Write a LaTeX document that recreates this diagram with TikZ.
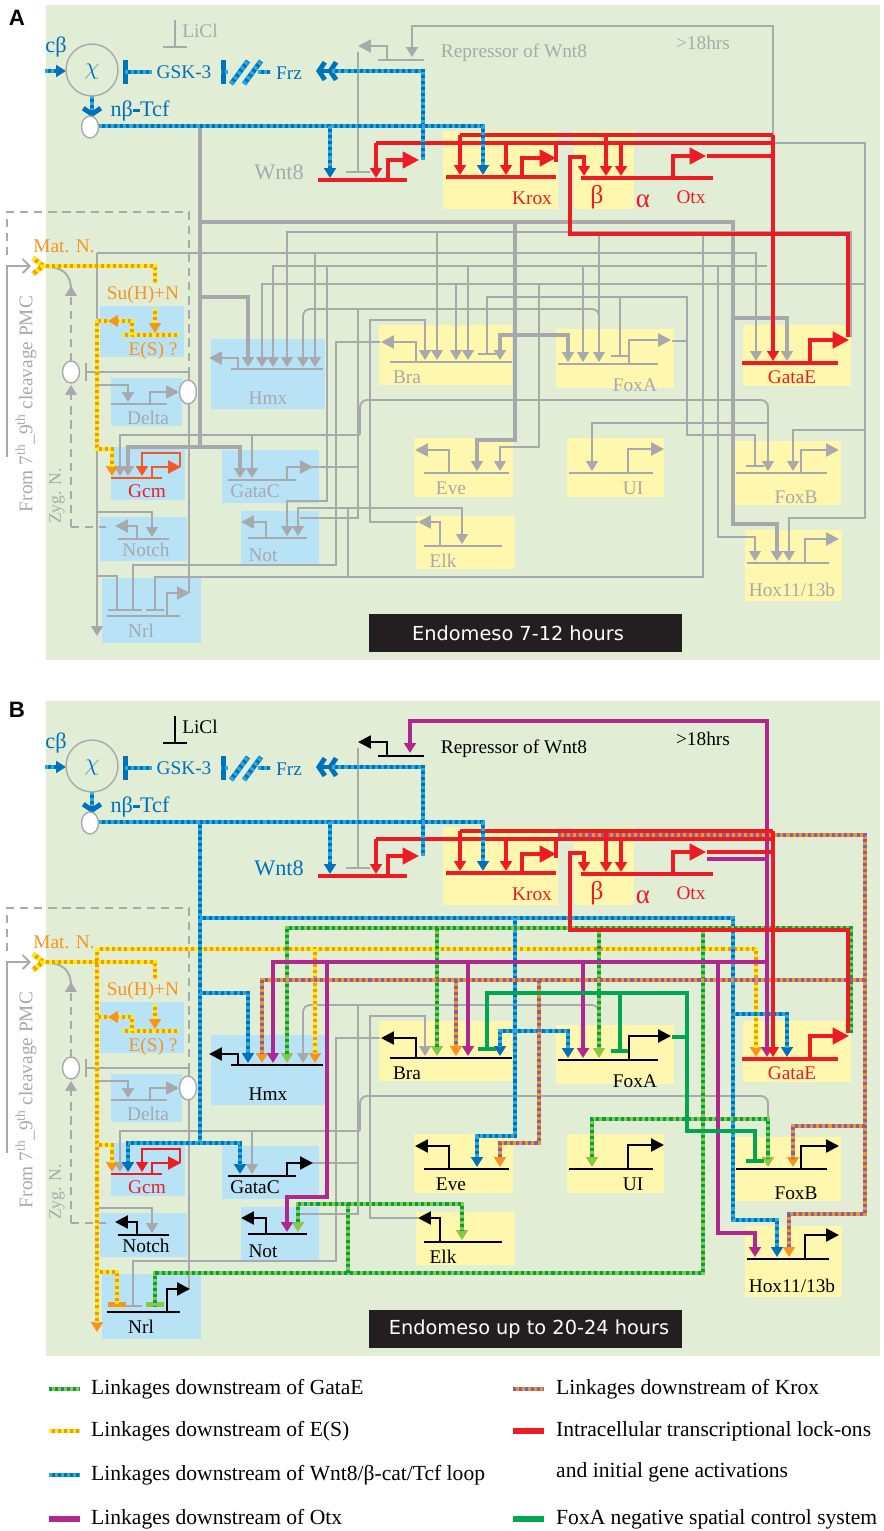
\documentclass[tikz,border=0pt]{standalone}
\usepackage{fontspec}
\setmainfont{Liberation Serif}
\newfontfamily\sansfont{DejaVu Sans}
\newfontfamily\headfont{Liberation Sans}
\usetikzlibrary{arrows.meta}
\definecolor{bgGreen}{HTML}{E2EDD6}
\definecolor{boxYellow}{HTML}{FFF7AE}
\definecolor{boxBlue}{HTML}{B8E2F6}
\definecolor{wireGray}{HTML}{A7A9AC}
\definecolor{linkRed}{HTML}{ED1C24}
\definecolor{gcmRed}{HTML}{F15A24}
\definecolor{wntDark}{HTML}{0072BC}
\definecolor{wntLight}{HTML}{29ABE2}
\definecolor{esOrange}{HTML}{F7941D}
\definecolor{esYellow}{HTML}{FFF200}
\definecolor{gataLight}{HTML}{8DC63F}
\definecolor{gataDark}{HTML}{00A14B}
\definecolor{kroxPurple}{HTML}{8560A8}
\definecolor{otxMagenta}{HTML}{B0288F}
\definecolor{foxaGreen}{HTML}{00A651}
\definecolor{boxBlack}{HTML}{231F20}
\newif\ifpanelB
\tikzset{
  dshort/.initial=0pt,
  gw/.style={draw=wireGray, line width=1.6pt},
  gwk/.style={draw=wireGray, line width=3.4pt},
  duo/.style 2 args={draw=#1, line width=4.2pt,
    postaction={draw=#2, line width=4.2pt, dash pattern=on 2.6pt off 2.6pt,
      arrows=-, shorten >=\pgfkeysvalueof{/tikz/dshort}}},
  wntA/.style={duo={wntDark}{wntLight}},
  esA/.style={duo={esOrange}{esYellow}},
  redw/.style={draw=linkRed, line width=3pt},
  arrowed/.style={-{Triangle[length=8.5pt,width=10pt]}, dshort=8pt},
  tbar/.style={-{Bar[width=15pt]}},
  geneline/.style={line width=2.2pt},
  outp/.style={line width=2pt, -{Triangle[length=11pt,width=11pt]}},
  bigout/.style={line width=3pt, -{Triangle[length=14pt,width=14pt]}},
  lab/.style={inner sep=0pt, font=\fontsize{16.5}{18}\selectfont},
  biglab/.style={inner sep=0pt, font=\fontsize{19}{20}\selectfont},
}
\newcommand{\drawnet}{%
  \fill[bgGreen] (46,5) rectangle (880,660);
  % gene boxes
  \foreach \xa/\ya/\xb/\yb in {443/131/558/209, 574/131/634/209,
      379/325/512/385, 556/329/674/388, 743/325/851/386, 414/438/513/497,
      567/438/664/497, 416/516/515/569, 733/441/841/505, 745/530/842/601}
    \fill[boxYellow] (\xa,\ya) rectangle (\xb,\yb);
  \foreach \xa/\ya/\xb/\yb in {211/339/325/409, 100/306/184/357,
      111/378/182/426, 111/447/185/500, 222/450/319/503, 241/511/319/564,
      100/517/187/561, 102/578/201/643}
    \fill[boxBlue] (\xa,\ya) rectangle (\xb,\yb);
  % maternal / zygotic side
  \draw[gw, dash pattern=on 7pt off 5pt] (7,255) -- (7,212) -- (189,212) -- (189,381);
  \draw[gw, dash pattern=on 7pt off 5pt, arrowed] (71,361) -- (71,286);
  \draw[gw, dash pattern=on 7pt off 5pt, arrowed] (71,527) -- (71,385);
  \draw[gw, dash pattern=on 7pt off 5pt] (71,527) -- (106,527);
  \draw[gw, -{Straight Barb[length=6pt,width=12pt]}] (7,457) -- (7,266) -- (31,266);
  \draw[gw] (47,267) .. controls (62,267) and (71,274) .. (71,290);
  % gray wiring
  \draw[gcol, line width=1.6pt, -{Bar[width=20pt]}] (175,20) -- (175,48);
  \draw[gw, -{Bar[width=20pt]}] (358,52) -- (358,173);
  \draw[gw, rounded corners=6pt, arrowed] (599,330) -- (599,309) -- (303,309) -- (303,367);
  \draw[gw] (312,467) -- (358,467);
  \draw[gw] (358,309) -- (358,518) -- (300,518);
  \draw[gw, arrowed] (418,522) -- (370,522) -- (370,320) -- (425,320) -- (425,360);
  \draw[gw, tbar] (380,342) -- (336,342) -- (336,565) -- (133,565) -- (133,611);
  \draw[gw, rounded corners=6pt] (360,435) -- (360,400) -- (768,400) -- (768,424);
  \draw[gw, arrowed] (360,435) -- (120,435) -- (120,476);
  \draw[gw, arrowed] (252,435) -- (252,478);
  \draw[gw, arrowed] (97,385) -- (128,385) -- (128,402);
  \draw[gw, arrowed] (97,512) -- (152,512) -- (152,537);
  \draw[gw, tbar] (189,381) -- (189,372) -- (85,372);
  \draw[gw, line width=1.2pt] (189,403) -- (189,593);
  % E(S) side inputs
  \draw[esB, arrowed] (97,253) -- (97,636);
  \draw[esB, arrowed] (97,253) -- (756,253) -- (756,361);
  \draw[esB, arrowed] (315,253) -- (315,367);
  \draw[esB, tbar] (97,576) -- (117,576) -- (117,611);
  % Wnt8 / beta-cat / Tcf
  \draw[wntB, arrowed] (200,126) -- (200,447) -- (128,447) -- (128,476);
  \draw[wntB, arrowed] (200,447) -- (240,447) -- (240,478);
  \draw[wntB, arrowed] (200,222) -- (733,222) -- (733,524) -- (777,524) -- (777,561);
  \draw[wntB, arrowed] (733,318) -- (787,318) -- (787,361);
  \draw[wntB, arrowed] (515,222) -- (515,440) -- (477,440) -- (477,471);
  \draw[wntB, arrowed] (515,335) -- (500,335) -- (500,360);
  \draw[wntB, arrowed] (515,335) -- (568,335) -- (568,362);
  \draw[wntB, arrowed] (200,297) -- (248,297) -- (248,367);
  % GataE
  \draw[gatB, arrowed] (851,337) -- (851,232) -- (287,232) -- (287,367);
  \draw[gatB, arrowed] (437,232) -- (437,360);
  \draw[gatB, arrowed] (599,232) -- (599,362);
  \draw[gatB, tbar] (703,232) -- (703,577) -- (155,577) -- (155,611);
  \draw[gatB, arrowed] (348,577) -- (348,508) -- (298,508) -- (298,536);
  \draw[gatB, arrowed] (348,508) -- (462,508) -- (462,544);
  \draw[gatB, arrowed] (703,423) -- (592,423) -- (592,471);
  \draw[gatB, arrowed] (703,423) -- (768,423) -- (768,471);
  % Krox
  \ifpanelB
    \draw[kroxB, arrowed] (558,139) -- (865,139) -- (865,518) -- (789,518) -- (789,561);
  \else
    \draw[kroxB, arrowed] (773,143) -- (865,143) -- (865,518) -- (789,518) -- (789,561);
  \fi
  \draw[kroxB, arrowed] (865,430) -- (793,430) -- (793,471);
  \draw[kroxB, arrowed] (865,284) -- (262,284) -- (262,367);
  \draw[kroxB, arrowed] (456,284) -- (456,360);
  \draw[kroxB, arrowed] (539,284) -- (539,447) -- (500,447) -- (500,471);
  % Otx
  \draw[otxB, arrowed] (767,266) -- (273,266) -- (273,367);
  \draw[otxB, arrowed] (327,266) -- (327,501) -- (287,501) -- (287,536);
  \draw[otxB, arrowed] (468,266) -- (468,360);
  \draw[otxB, arrowed] (583,266) -- (583,362);
  \draw[otxB, arrowed] (718,266) -- (718,537) -- (755,537) -- (755,561);
  \ifpanelB
    \draw[otxB, arrowed] (707,163) -- (767,163) -- (767,25) -- (410,25) -- (410,57);
    \draw[otxB, arrowed] (767,163) -- (767,361);
  \else
    \draw[gw, arrowed] (773,135) -- (773,26) -- (412,26) -- (412,57);
  \fi
  % FoxA
  \draw[foxaB] (672,341) -- (687,341);
  \draw[foxaB, -{Bar[width=16pt]}] (687,341) -- (687,297) -- (487,297) -- (487,355);
  \draw[foxaB, -{Bar[width=16pt]}] (620,297) -- (620,357);
  \draw[foxaB, -{Bar[width=16pt]}] (687,341) -- (687,435) -- (755,435) -- (755,467);
  % E(S)
  \draw[esA] (33,258) -- (43,266) -- (33,274);
  \draw[esA] (43,266) -- (155,266) -- (155,284);
  \draw[esA, arrowed] (155,308) -- (155,333);
  \draw[esA] (122,335) -- (179,335);
  \draw[esA, arrowed] (110,321) -- (97,321) -- (97,449) -- (112,449) -- (112,476);
  \draw[esA, arrowed] (132,335) -- (132,321) -- (108,321);
  % lock-ons
  \draw[redw] (460,135) -- (773,135);
  \draw[redw, arrowed] (460,135) -- (460,175);
  \draw[redw, arrowed] (606,135) -- (606,176);
  \draw[redw, arrowed] (773,135) -- (773,361);
  \draw[redw] (376,143) -- (773,143);
  \draw[redw, arrowed] (376,143) -- (376,178);
  \draw[redw, arrowed] (506,143) -- (506,175);
  \draw[redw, arrowed] (621,143) -- (621,176);
  \draw[redw] (556,143) -- (556,162);
  \draw[redw] (707,156) -- (773,156);
  \draw[redw, arrowed] (848,337) -- (848,234) -- (570,234) -- (570,157) -- (584,157) -- (584,176);
  % top Wnt8 loop
  \draw[wntA, arrowed] (45,71) -- (66,71);
  \draw[wntA, -{Bar[width=20pt]}] (152,72) -- (123,72);
  \draw[wntA, -{Bar[width=20pt]}] (228,72) -- (221,72);
  \draw[wntA] (258,72) -- (270,72);
  \draw[wntA] (231,84) -- (248,61);
  \draw[wntA] (244,84) -- (261,61);
  \draw[wntA, -{Straight Barb[length=5pt,width=15pt] Straight Barb[length=5pt,width=15pt]}, dshort=14pt]
    (423,160) -- (423,71) -- (316,71);
  \draw[wntA, -{Straight Barb[length=5pt,width=15pt]}, dshort=6pt] (92,96) -- (92,117);
  \draw[wntA, arrowed] (99,126) -- (483,126) -- (483,175);
  \draw[wntA, arrowed] (330,126) -- (330,178);
  % genes
  \draw[gcol, geneline] (231,369) -- (323,369);
  \draw[gcol, outp] (238,369) -- (238,358) -- (209,358);
  \draw[gcol, geneline] (390,362) -- (512,362);
  \draw[gcol, outp] (416,362) -- (416,342) -- (381,342);
  \draw[gcol, geneline] (558,364) -- (658,364);
  \draw[gcol, outp] (629,364) -- (629,340) -- (671,340);
  \draw[gcol, geneline] (424,473) -- (509,473);
  \draw[gcol, outp] (449,473) -- (449,450) -- (415,450);
  \draw[gcol, geneline] (569,473) -- (653,473);
  \draw[gcol, outp] (628,473) -- (628,449) -- (664,449);
  \draw[gcol, geneline] (424,546) -- (502,546);
  \draw[gcol, outp] (440,546) -- (440,522) -- (418,522);
  \draw[gcol, geneline] (736,473) -- (827,473);
  \draw[gcol, outp] (801,473) -- (801,450) -- (839,450);
  \draw[gcol, geneline] (747,563) -- (829,563);
  \draw[gcol, outp] (805,563) -- (805,539) -- (839,539);
  \draw[gcol, geneline] (228,480) -- (296,480);
  \draw[gcol, outp] (287,480) -- (287,467) -- (313,467);
  \draw[gcol, geneline] (248,538) -- (307,538);
  \draw[gcol, outp] (266,538) -- (266,522) -- (241,522);
  \draw[gcol, geneline] (118,539) -- (169,539);
  \draw[gcol, outp] (137,539) -- (137,526) -- (115,526);
  \draw[gcol, geneline] (107,616) -- (180,616);
  \draw[gcol, outp] (167,616) -- (167,593) -- (190,593);
  \draw[gcol, geneline] (378,60) -- (424,60);
  \draw[gcol, outp] (387,60) -- (387,46) -- (358,46);
  \draw[wireGray, geneline] (111,404) -- (167,404);
  \draw[wireGray, outp] (150,404) -- (150,392) -- (179,392);
  \draw[linkRed, line width=3.5pt] (318,180) -- (407,180);
  \draw[linkRed, bigout] (388,180) -- (388,160) -- (419,160);
  \draw[linkRed, line width=3pt] (446,177) -- (556,177);
  \draw[linkRed, bigout] (522,177) -- (522,158) -- (556,158);
  \draw[linkRed, line width=3pt] (581,178) -- (713,178);
  \draw[linkRed, bigout] (673,178) -- (673,156) -- (706,156);
  \draw[linkRed, line width=3pt] (742,363) -- (838,363);
  \draw[linkRed, bigout] (810,363) -- (810,340) -- (849,340);
  \draw[gcmcol, geneline] (111,478) -- (162,478);
  \draw[gcmcol, outp] (152,478) -- (152,467) -- (181,467);
  \draw[gcmcol, line width=2pt, arrowed] (180,467) -- (180,453) -- (142,453) -- (142,476);
  % switches
  \draw[wireGray, line width=1.2pt] (92,70) circle [radius=26];
  \draw[wireGray, line width=1.2pt, fill=white] (90,127) ellipse [x radius=8.5, y radius=11];
  \draw[wireGray, line width=1.2pt, fill=white] (71,372) ellipse [x radius=8.5, y radius=11];
  \draw[wireGray, line width=1.2pt, fill=white] (188,392) ellipse [x radius=8.5, y radius=12];
  % labels
  \node[lab, text=gcol] (licl) at (200,31) {LiCl};
  \node[biglab, text=wntDark] (cbeta) at (56,47) {cβ};
  \node[biglab, text=wntDark, font=\fontsize{21}{22}\selectfont] (chi) at (92,72) {$\chi$};
  \node[lab, text=wntDark] (gsk) at (184,72) {GSK-3};
  \node[lab, text=wntDark] (frz) at (289,73) {Frz};
  \node[biglab, text=wntDark] (nbtcf) at (140,111) {nβ\rule[0.22em]{0.32em}{0.13em}Tcf};
  \node[lab, text=gcol] (repr) at (514,53) {Repressor of Wnt8};
  \node[lab, text=gcol] (late) at (703,43) {>18hrs};
  \node[biglab, text=wcol] (wnt) at (279,172) {Wnt8};
  \node[lab, text=linkRed] (krox) at (532,198) {Krox};
  \node[lab, text=linkRed, font=\fontsize{22}{23}\selectfont] (beta) at (597,197) {β};
  \node[lab, text=linkRed, font=\fontsize{23}{24}\selectfont] (alpha) at (643,201) {α};
  \node[lab, text=linkRed] (otx) at (691,197) {Otx};
  \node[lab, text=esOrange] (matn) at (64,246) {Mat. N.};
  \node[lab, text=esOrange] (suh) at (143,295) {Su(H)+N};
  \node[lab, text=esOrange] (es) at (153,351) {E(S) ?};
  \node[lab, text=wireGray] (delta) at (148,418) {Delta};
  \node[lab, text=gcol] (hmx) at (268,398) {Hmx};
  \node[lab, text=gcol] (bra) at (407,377) {Bra};
  \node[lab, text=gcol] (foxa) at (635,385) {FoxA};
  \node[lab, text=linkRed] (gatae) at (792,377) {GataE};
  \node[lab, text=gcol] (eve) at (451,488) {Eve};
  \node[lab, text=gcol] (ui) at (633,488) {UI};
  \node[lab, text=gcol] (elk) at (443,561) {Elk};
  \node[lab, text=gcol] (foxb) at (796,497) {FoxB};
  \node[lab, text=gcol] (hox) at (792,590) {Hox11/13b};
  \node[lab, text=linkRed] (gcm) at (147,491) {Gcm};
  \node[lab, text=gcol] (gatac) at (255,491) {GataC};
  \node[lab, text=gcol] (not) at (263,555) {Not};
  \node[lab, text=gcol] (notch) at (146,550) {Notch};
  \node[lab, text=gcol] (nrl) at (141,631) {Nrl};
  \node[lab, text=wireGray, rotate=90] (pmc) at (26,404)
    {From 7\textsuperscript{th}\_9\textsuperscript{th} cleavage PMC};
  \node[lab, text=wireGray, rotate=90, font=\fontsize{15}{16}\selectfont] (zyg) at (57,496) {Zyg. N.};
  \fill[boxBlack] (369,614) rectangle (682,652);
}

\begin{document}
\begin{tikzpicture}[x=0.03cm, y=-0.03cm]
  \useasboundingbox (0,0) rectangle (883,1531);
  \fill[white] (0,0) rectangle (883,1531);
  % ---- panel A: 7-12 hours ----
  \begin{scope}[name prefix=A-, esB/.style={gw}, wntB/.style={gwk}, gatB/.style={gw},
      kroxB/.style={gw}, otxB/.style={gw}, foxaB/.style={gw}]
    \colorlet{gcol}{wireGray}\colorlet{wcol}{wireGray}\colorlet{gcmcol}{gcmRed}
    \panelBfalse
    \drawnet
    \node[text=white, inner sep=0pt, font=\sansfont\fontsize{16.5}{18}\selectfont] (endo) at (518,633) {Endomeso 7-12 hours};
    \node[inner sep=0pt, font=\headfont\bfseries\fontsize{19}{20}\selectfont] (tag) at (17,18) {A};
  \end{scope}
  % ---- panel B: up to 20-24 hours ----
  \begin{scope}[shift={(0,696)}, name prefix=B-,
      esB/.style={duo={esOrange}{esYellow}}, wntB/.style={duo={wntDark}{wntLight}},
      gatB/.style={duo={gataLight}{gataDark}}, kroxB/.style={duo={esOrange}{kroxPurple}},
      otxB/.style={draw=otxMagenta, line width=2.6pt}, foxaB/.style={draw=foxaGreen, line width=3.4pt}]
    \colorlet{gcol}{black}\colorlet{wcol}{wntDark}\colorlet{gcmcol}{linkRed}
    \panelBtrue
    \drawnet
    \node[text=white, inner sep=0pt, font=\sansfont\fontsize{16.5}{18}\selectfont] (endo) at (529,633) {Endomeso up to 20-24 hours};
    \node[inner sep=0pt, font=\headfont\bfseries\fontsize{19}{20}\selectfont] (tag) at (17,14) {B};
  \end{scope}
  % ---- legend ----
  \begin{scope}[every node/.style={anchor=west, inner sep=0pt, font=\fontsize{18.4}{20}\selectfont}]
    \draw[duo={gataLight}{gataDark}] (49,1389) -- (80,1389);
    \node (legGata) at (91,1389) {Linkages downstream of GataE};
    \draw[duo={esOrange}{esYellow}] (49,1431) -- (80,1431);
    \node (legES) at (91,1431) {Linkages downstream of E(S)};
    \draw[duo={wntDark}{wntLight}] (49,1475) -- (80,1475);
    \node (legWnt) at (91,1475) {Linkages downstream of Wnt8/β-cat/Tcf loop};
    \draw[otxMagenta, line width=4.5pt] (49,1519) -- (80,1519);
    \node (legOtx) at (91,1519) {Linkages downstream of Otx};
    \draw[duo={esOrange}{kroxPurple}] (513,1389) -- (544,1389);
    \node (legKrox) at (556,1389) {Linkages downstream of Krox};
    \draw[linkRed, line width=4.5pt] (513,1431) -- (544,1431);
    \node (legRed) at (556,1431) {Intracellular transcriptional lock-ons};
    \node (legRedB) at (556,1472) {and initial gene activations};
    \draw[foxaGreen, line width=4.5pt] (513,1519) -- (544,1519);
    \node (legFoxA) at (556,1519) {FoxA negative spatial control system};
  \end{scope}
\end{tikzpicture}
\end{document}
